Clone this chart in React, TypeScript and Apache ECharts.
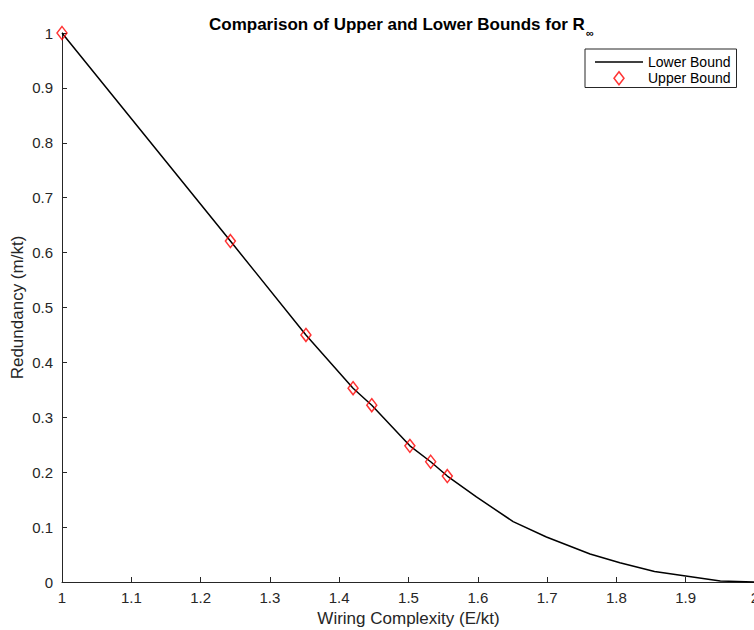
import React, { useEffect, useRef } from "react";
import * as echarts from "echarts";

const lowerX = [1, 1.243, 1.352, 1.42, 1.447, 1.502, 1.532, 1.556, 1.598, 1.651, 1.699, 1.762, 1.805, 1.855, 1.9, 1.95, 2];
const lowerY = [1, 0.621, 0.45, 0.353, 0.322, 0.248, 0.219, 0.193, 0.155, 0.11, 0.082, 0.051, 0.035, 0.019, 0.011, 0.002, 0];
const upperX = [1, 1.243, 1.352, 1.42, 1.447, 1.502, 1.532, 1.556];
const upperY = [1, 0.621, 0.45, 0.353, 0.322, 0.248, 0.219, 0.193];

const FONT = "'Liberation Sans', Arial, Helvetica, sans-serif";
const AX = "#262626";
const DIAMOND = "path://M5 0L10 6.5L5 13L0 6.5Z";
const LINEICON = "path://M0 0H48V1.5H0Z";

export default function App() {
  const ref = useRef<HTMLDivElement>(null);
  useEffect(() => {
    if (!ref.current) return;
    const chart = echarts.init(ref.current, undefined, { renderer: "svg" });
    chart.setOption({
      animation: false,
      backgroundColor: "#fff",
      textStyle: { fontFamily: FONT },
      title: {
        text: "{a|Comparison of Upper and Lower Bounds for R}{b|∞}",
        left: 204,
        top: 6,
        textStyle: {
          rich: {
            a: { fontSize: 17, fontWeight: "bold", color: "#000", fontFamily: FONT },
            b: { fontSize: 11, color: "#000", fontFamily: FONT, padding: [16, 0, 0, 1] },
          },
        },
      },
      legend: {
        orient: "vertical",
        left: 585,
        top: 49,
        padding: [6, 6, 2, 10],
        itemWidth: 48,
        itemHeight: 13,
        itemGap: 2,
        borderColor: AX,
        borderWidth: 1,
        backgroundColor: "#fff",
        symbolKeepAspect: true,
        textStyle: { fontSize: 14, color: "#000", fontFamily: FONT, lineHeight: 14 },
        data: [
          {
            name: "Lower Bound",
            icon: LINEICON,
            itemStyle: { color: "#000", borderWidth: 0 },
          },
          {
            name: "Upper Bound",
            icon: DIAMOND,
            itemStyle: { color: "rgba(0,0,0,0)", borderColor: "#ff0000", borderWidth: 1.5 },
          },
        ],
      },
      grid: { left: 62, right: -1, top: 33, bottom: 48, containLabel: false, outerBoundsMode: "none" },
      xAxis: {
        type: "value",
        min: 1,
        max: 2,
        interval: 0.1,
        name: "Wiring Complexity (E/kt)",
        nameLocation: "middle",
        nameGap: 28,
        nameMoveOverlap: false,
        nameTextStyle: { fontSize: 17, color: AX, fontFamily: FONT },
        axisLine: { show: true, lineStyle: { color: AX, width: 1 } },
        axisTick: { show: true, inside: true, length: 5, lineStyle: { color: AX } },
        axisLabel: {
          fontSize: 15,
          color: AX,
          margin: 8,
          fontFamily: FONT,
          formatter: (v: number) => String(+v.toFixed(1)),
        },
        splitLine: { show: false },
      },
      yAxis: {
        type: "value",
        min: 0,
        max: 1,
        interval: 0.1,
        name: "Redundancy (m/kt)",
        nameLocation: "middle",
        nameGap: 36,
        nameMoveOverlap: false,
        nameTextStyle: { fontSize: 17, color: AX, fontFamily: FONT },
        axisLine: { show: true, lineStyle: { color: AX, width: 1 } },
        axisTick: { show: true, inside: true, length: 5, lineStyle: { color: AX } },
        axisLabel: {
          fontSize: 15,
          color: AX,
          margin: 9,
          fontFamily: FONT,
          formatter: (v: number) => String(+v.toFixed(1)),
        },
        splitLine: { show: false },
      },
      series: [
        {
          name: "Lower Bound",
          type: "line",
          data: lowerX.map((x, i) => [x, lowerY[i]]),
          symbol: "none",
          lineStyle: { color: "#000", width: 1.5 },
          itemStyle: { color: "#000" },
          clip: false,
          z: 2,
        },
        {
          name: "Upper Bound",
          type: "scatter",
          data: upperX.map((x, i) => [x, upperY[i]]),
          symbol: DIAMOND,
          symbolSize: [10, 13],
          itemStyle: { color: "rgba(0,0,0,0)", borderColor: "#ff0000", borderWidth: 1.5 },
          clip: false,
          z: 3,
        },
      ],
    });
    return () => chart.dispose();
  }, []);
  return <div ref={ref} style={{ width: 754, height: 630, position: "absolute", left: 0, top: 0 }} />;
}
